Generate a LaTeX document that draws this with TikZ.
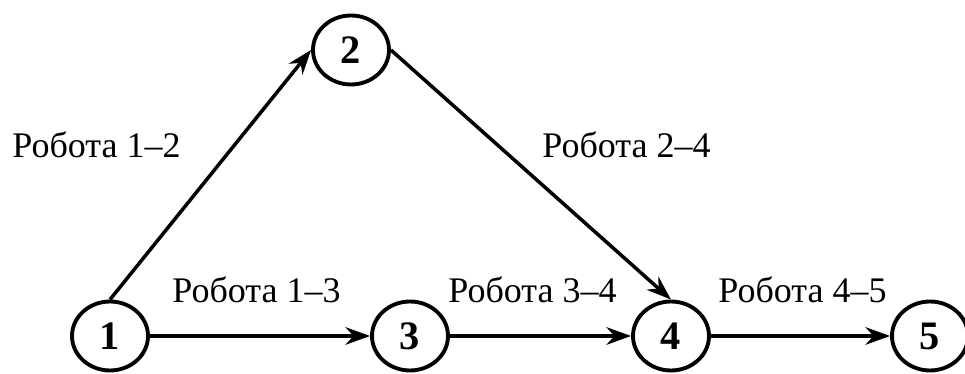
\documentclass[tikz,border=0pt]{standalone}
\usepackage{fontspec}
\setmainfont{Liberation Serif}
\usepackage{tikz}
\usetikzlibrary{arrows.meta,shapes.geometric}

\begin{document}
\begin{tikzpicture}[x=0.02cm, y=-0.02cm,
    event/.style={ellipse, draw, line width=2.2pt, minimum width=1.52cm,
        minimum height=1.38cm, inner sep=0pt,
        font=\fontsize{23}{23}\selectfont\bfseries},
    job/.style={draw, line width=2pt, -{Stealth[length=14pt,width=10pt]}},
    joblabel/.style={anchor=base west, inner sep=0pt,
        font=\fontsize{20.5}{20.5}\selectfont}]
    \useasboundingbox (0,0) rectangle (965,374);

    % Events
    \node[event] (n1) at (110, 336) {1};
    \node[event] (n2) at (351, 50) {2};
    \node[event] (n3) at (410, 336) {3};
    \node[event] (n4) at (671, 336) {4};
    \node[event] (n5) at (930, 336) {5};

    % Jobs
    \draw[job] (n1.north) -- (n2.west);
    \draw[job] (n2.east) -- (n4.north);
    \draw[job] (n1.east) -- (n3.west);
    \draw[job] (n3.east) -- (n4.west);
    \draw[job] (n4.east) -- (n5.west);

    % Job labels
    \node[joblabel] (l12) at (12, 158) {Робота 1–2};
    \node[joblabel] (l24) at (542, 158) {Робота 2–4};
    \node[joblabel] (l13) at (172, 303) {Робота 1–3};
    \node[joblabel] (l34) at (448, 303) {Робота 3–4};
    \node[joblabel] (l45) at (718, 303) {Робота 4–5};
\end{tikzpicture}
\end{document}
